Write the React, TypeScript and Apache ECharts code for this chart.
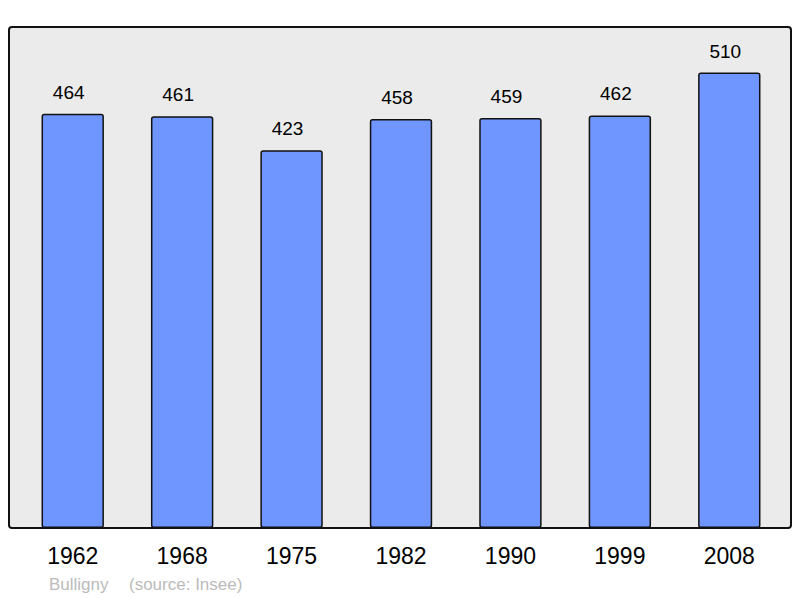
import React, { useEffect, useRef } from "react";
import * as echarts from "echarts";

const years = ["1962", "1968", "1975", "1982", "1990", "1999", "2008"];
const population = [464, 461, 423, 458, 459, 462, 510];
const footerName = "Bulligny";
const footerSource = "(source: Insee)";

export default function App() {
  const ref = useRef<HTMLDivElement>(null);
  useEffect(() => {
    if (!ref.current) return;
    const chart = echarts.init(ref.current, null, { renderer: "svg" });
    chart.setOption({
      animation: false,
      backgroundColor: "#ffffff",
      textStyle: { fontFamily: "Liberation Sans, Arial, sans-serif" },
      graphic: [
        {
          type: "rect",
          z: -10,
          shape: { x: 9, y: 27, width: 782, height: 501, r: 3 },
          style: { fill: "#ebebeb", stroke: "#111", lineWidth: 2 },
          silent: true,
        },
        {
          type: "text",
          left: 49,
          top: 576,
          style: {
            text: footerName,
            fill: "#bbbbbb",
            font: "17px Liberation Sans, Arial, sans-serif",
          },
        },
        {
          type: "text",
          left: 129,
          top: 576,
          style: {
            text: footerSource,
            fill: "#bbbbbb",
            font: "17px Liberation Sans, Arial, sans-serif",
          },
        },
      ],
      grid: { left: 18, right: 16, top: 27, bottom: 70, containLabel: false },
      xAxis: {
        type: "category",
        data: years,
        axisLine: { show: false },
        axisTick: { show: false },
        axisLabel: {
          color: "#000",
          fontSize: 23,
          margin: 16,
          fontFamily: "Liberation Sans, Arial, sans-serif",
        },
      },
      yAxis: {
        type: "value",
        min: 0,
        max: 561,
        show: false,
        splitLine: { show: false },
      },
      series: [
        {
          type: "bar",
          data: population,
          barWidth: "57%",
          itemStyle: {
            color: "#6f96ff",
            borderColor: "#111",
            borderWidth: 1.5,
            borderRadius: 2,
          },
          label: {
            show: true,
            position: "top",
            distance: 12,
            offset: [-4, 0],
            color: "#000",
            fontSize: 19,
            fontFamily: "Liberation Sans, Arial, sans-serif",
          },
        },
      ],
    });
    return () => chart.dispose();
  }, []);
  return (
    <div
      ref={ref}
      style={{ position: "fixed", left: 0, top: 0, width: 800, height: 598 }}
    />
  );
}
